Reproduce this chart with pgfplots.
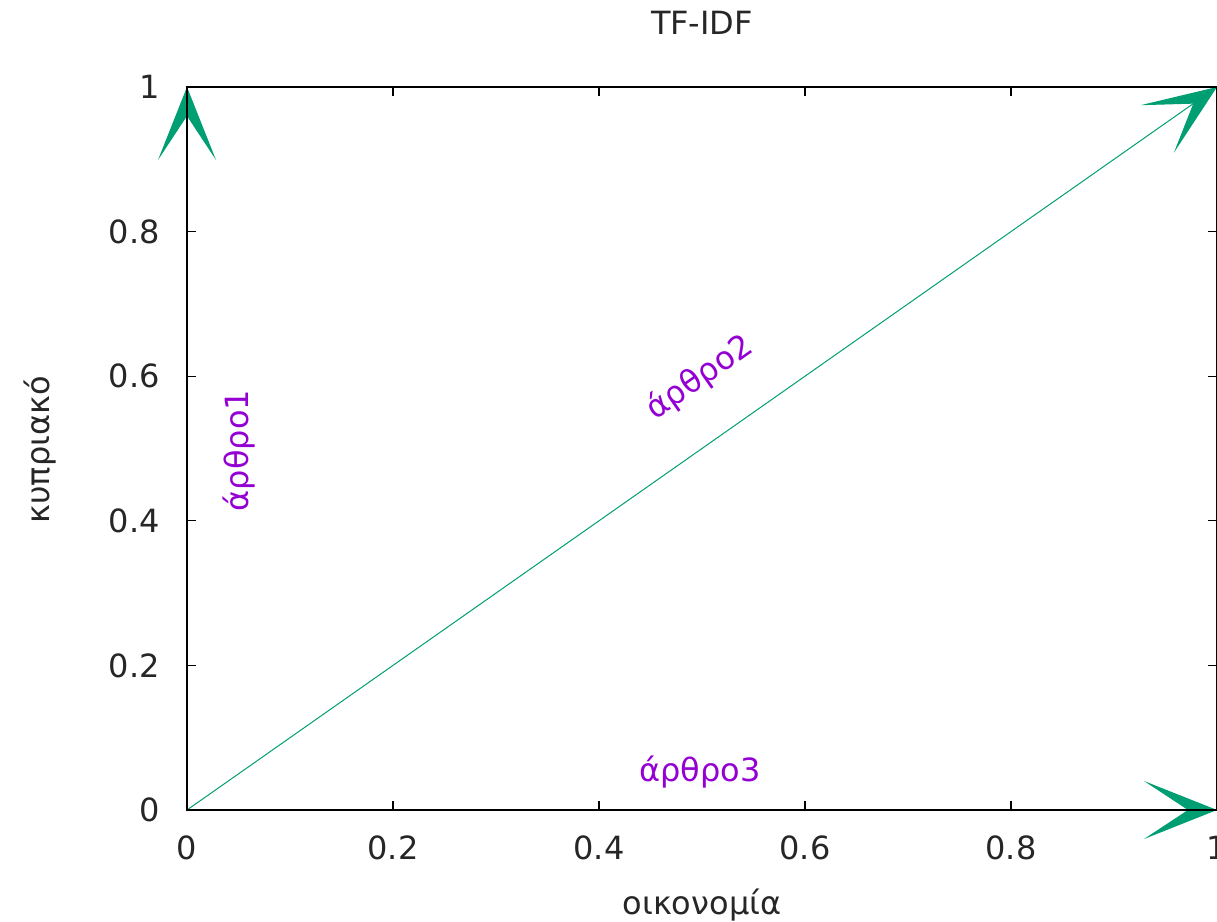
\documentclass[border=0pt]{standalone}
\usepackage{fontspec}
\setmainfont{DejaVu Sans}
\usepackage{pgfplots}
\pgfplotsset{compat=1.18}
\usetikzlibrary{arrows.meta}
\definecolor{vecgreen}{HTML}{009E73}
\definecolor{lblviolet}{HTML}{9400D3}
\begin{document}
\begin{tikzpicture}
\useasboundingbox (-93.5pt,-56pt) rectangle (515pt,405pt);
\begin{axis}[
  at={(0,0)}, anchor=south west,
  scale only axis, width=515pt, height=361.5pt,
  xmin=0, xmax=1, ymin=0, ymax=1,
  clip=false, axis on top,
  xtick={0,0.2,0.4,0.6,0.8,1},
  ytick={0,0.2,0.4,0.6,0.8,1},
  /pgf/number format/assume math mode=true,
  font=\fontsize{16}{19}\selectfont,
  tick label style={text=black!85},
  xticklabel style={anchor=base, yshift=-24.5pt, inner sep=0pt},
  yticklabel style={anchor=east, xshift=-13.5pt, inner sep=0pt},
  major tick length=4.5pt,
  tick style={line width=0.6pt, black},
  axis line style={line width=0.8pt},
  title={TF-IDF},
  title style={at={(axis description cs:0.5,1.072)}, anchor=center, text=black!85},
  xlabel={οικονομία},
  xlabel style={at={(axis description cs:0.5,-0.1314)}, anchor=center, text=black!85},
  ylabel={κυπριακό},
  ylabel style={at={(axis description cs:-0.1427,0.498)}, anchor=center, text=black!85},
]
\addplot[vecgreen, line width=0.5pt, -{Stealth[length=36.5pt,width=29pt,inset=22pt]}] coordinates {(0,0) (0,1)};
\addplot[vecgreen, line width=0.5pt, -{Stealth[length=36.5pt,width=29pt,inset=22pt]}] coordinates {(0,0) (1,1)};
\addplot[vecgreen, line width=0.5pt, -{Stealth[length=36.5pt,width=29pt,inset=22pt]}] coordinates {(0,0) (1,0)};
\node[lblviolet, rotate=90] at (axis cs:0.051,0.497) {άρθρο1};
\node[lblviolet, rotate=35] at (axis cs:0.498,0.598) {άρθρο2};
\node[lblviolet] at (axis cs:0.498,0.053) {άρθρο3};
\end{axis}
\end{tikzpicture}
\end{document}
